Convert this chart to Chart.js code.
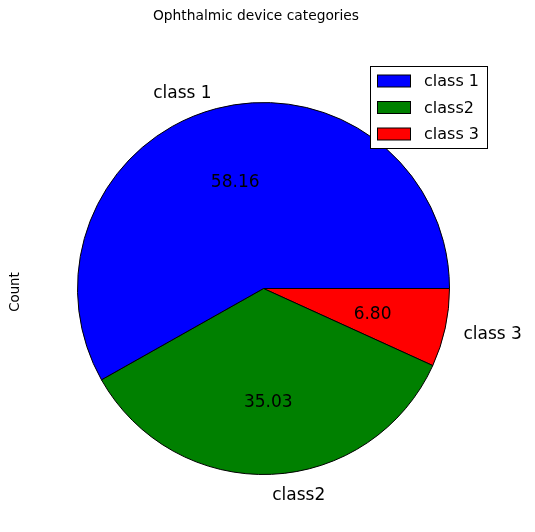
<!DOCTYPE html>
<html>
<head>
<meta charset="utf-8">
<script src="https://cdn.jsdelivr.net/npm/chart.js@4/dist/chart.umd.min.js"></script>
<style>
html,body{margin:0;padding:0;background:#fff;}
canvas{display:block;}
</style>
</head>
<body>
<canvas id="c" width="535" height="532"></canvas>
<script>
const categories = ["class 1", "class2", "class 3"];
const percentValues = [58.16, 35.03, 6.80];
const sliceColors = ["#0000ff", "#008000", "#ff0000"];
const titleText = "Ophthalmic device categories";
const yLabelText = "Count";

// matplotlib draws counter-clockwise from 3 o'clock; Chart.js draws clockwise,
// so feed the slices in reverse order starting at 3 o'clock.
const chartLabels = categories.slice().reverse();
const chartValues = percentValues.slice().reverse();
const chartColors = sliceColors.slice().reverse();

const FONT = "'DejaVu Sans', sans-serif";

const textPlugin = {
  id: 'mplText',
  afterDraw(chart) {
    const ctx = chart.ctx;
    const meta = chart.getDatasetMeta(0);
    ctx.save();
    ctx.fillStyle = '#000';
    ctx.font = '17px ' + FONT;
    const dy = 2.5;
    meta.data.forEach((arc, i) => {
      const p = arc.getProps(['x','y','startAngle','endAngle','outerRadius'], true);
      const mid = (p.startAngle + p.endAngle) / 2;
      const c = Math.cos(mid), s = Math.sin(mid);
      const lx = p.x + 1.1 * p.outerRadius * c;
      const ly = p.y + 1.1 * p.outerRadius * s;
      ctx.textAlign = c > 0 ? 'left' : 'right';
      ctx.textBaseline = 'middle';
      ctx.fillText(chartLabels[i], lx, ly + dy);
      const px = p.x + 0.6 * p.outerRadius * c;
      const py = p.y + 0.6 * p.outerRadius * s;
      ctx.textAlign = 'center';
      ctx.fillText(chartValues[i].toFixed(2), px, py + dy);
    });
    // title
    ctx.font = '13.8px ' + FONT;
    ctx.textAlign = 'center';
    ctx.textBaseline = 'middle';
    ctx.fillText(titleText, 256, 16);
    // y label
    ctx.save();
    ctx.translate(16, 292);
    ctx.rotate(-Math.PI / 2);
    ctx.font = '13.3px ' + FONT;
    ctx.fillText(yLabelText, 0, 0);
    ctx.restore();
    // legend
    const bx = 370.5, by = 66.5, bw = 117, bh = 82;
    ctx.fillStyle = '#fff';
    ctx.fillRect(bx, by, bw, bh);
    ctx.strokeStyle = '#000';
    ctx.lineWidth = 1;
    ctx.strokeRect(bx, by, bw, bh);
    ctx.font = '16px ' + FONT;
    ctx.textAlign = 'left';
    categories.forEach((name, i) => {
      const cy = 81 + i * 26.5;
      ctx.fillStyle = sliceColors[i];
      ctx.fillRect(377.5, cy - 6, 33, 12);
      ctx.strokeRect(377.5, cy - 6, 33, 12);
      ctx.fillStyle = '#000';
      ctx.fillText(name, 424, cy + 1);
    });
    ctx.restore();
  }
};

new Chart(document.getElementById('c'), {
  type: 'pie',
  data: {
    labels: chartLabels,
    datasets: [{
      data: chartValues,
      backgroundColor: chartColors,
      borderColor: '#000',
      borderWidth: 1,
      hoverBorderWidth: 1,
      hoverOffset: 0
    }]
  },
  options: {
    responsive: false,
    animation: false,
    events: [],
    rotation: 90,
    layout: { padding: { left: 77, right: 85, top: 102, bottom: 57 } },
    plugins: {
      legend: { display: false },
      title: { display: false },
      tooltip: { enabled: false }
    }
  },
  plugins: [textPlugin]
});
</script>
</body>
</html>
